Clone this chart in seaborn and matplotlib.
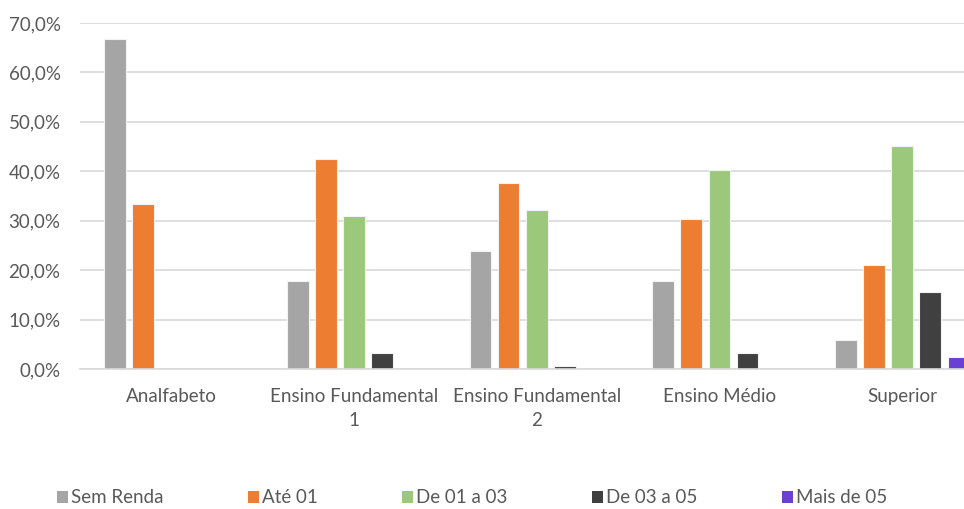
import matplotlib
matplotlib.use("Agg")
import matplotlib.pyplot as plt
import seaborn as sns
import pandas as pd
from matplotlib.patches import Patch

# Dados (percentual por escolaridade e faixa de renda)
escolaridade = ["Analfabeto", "Ensino Fundamental\n1", "Ensino Fundamental\n2",
                "Ensino Médio", "Superior"]
faixas = ["Sem Renda", "Até 01", "De 01 a 03", "De 03 a 05", "Mais de 05"]

sem_renda = [66.7, 17.9, 23.8, 17.9, 5.9]
ate_01 = [33.3, 42.4, 37.6, 30.4, 21.0]
de_01_a_03 = [0.0, 31.0, 32.1, 40.3, 45.2]
de_03_a_05 = [0.0, 3.2, 0.6, 3.2, 15.5]
mais_de_05 = [0.0, 0.0, 0.0, 0.0, 2.4]

cores = ["#A5A5A5", "#ED7D31", "#9BC87B", "#404040", "#6A3FD2"]

# Montando o dataframe no formato longo para o seaborn
series = [sem_renda, ate_01, de_01_a_03, de_03_a_05, mais_de_05]
linhas = []
for faixa, valores in zip(faixas, series):
    for esc, v in zip(escolaridade, valores):
        linhas.append({"Escolaridade": esc, "Faixa": faixa, "Valor": v})
df = pd.DataFrame(linhas)

sns.set_style("white")
plt.rcParams["font.family"] = ["Lato", "DejaVu Sans"]
cinza_texto = "#595959"
tam_fonte = 13.5

fig = plt.figure(figsize=(9.64, 5.09), dpi=100)
ax = fig.add_axes([0.083, 0.275, 0.9476, 0.68])

sns.barplot(data=df, x="Escolaridade", y="Valor", hue="Faixa", order=escolaridade,
            hue_order=faixas, palette=cores, saturation=1, width=0.77, gap=0.23, ax=ax,
            linewidth=0.8, edgecolor="#F2F2F2", legend=False)

# Barras com valor zero não devem aparecer
for p in ax.patches:
    if p.get_height() == 0:
        p.set_visible(False)

ax.set_xlim(-0.5, 4.5)
ax.set_ylim(0, 70)
ax.set_yticks(range(0, 71, 10))
ax.set_yticklabels([f"{v},0%" for v in range(0, 71, 10)])
ax.yaxis.grid(True, color="#D9D9D9", linewidth=1.2)
ax.set_axisbelow(True)
for lado in ["top", "right", "left"]:
    ax.spines[lado].set_visible(False)
ax.spines["bottom"].set_color("#D9D9D9")
ax.spines["bottom"].set_linewidth(1.2)
ax.tick_params(axis="y", length=0, pad=14, labelsize=tam_fonte, labelcolor=cinza_texto)
ax.tick_params(axis="x", length=0, pad=14, labelsize=tam_fonte, labelcolor=cinza_texto)
for rotulo in ax.get_xticklabels():
    rotulo.set_linespacing(1.45)
ax.set_xlabel("")
ax.set_ylabel("")

# Legenda na parte de baixo
handles = [Patch(facecolor=c, edgecolor="none") for c in cores]
fig.legend(handles, faixas, loc="center", bbox_to_anchor=(472 / 964, 0.022), ncol=5,
           frameon=False, fontsize=tam_fonte, labelcolor=cinza_texto, columnspacing=4.5,
           handlelength=0.6, handleheight=0.6, handletextpad=0.15)

fig.savefig("out.png", dpi=100)
